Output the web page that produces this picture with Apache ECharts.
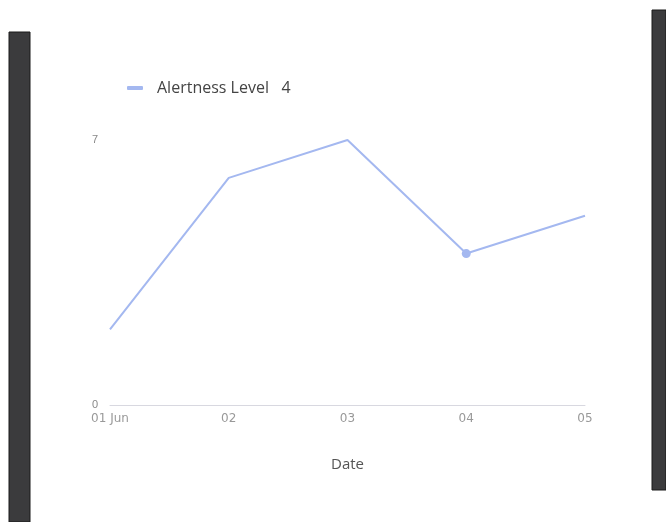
<!DOCTYPE html>
<html><head><meta charset="utf-8">
<script src="https://cdn.jsdelivr.net/npm/echarts@6/dist/echarts.min.js"></script>
<style>html,body{margin:0;padding:0;background:#fff}#c{width:666px;height:522px}</style>
</head><body><div id="c"></div>
<script>
const categories = ['01 Jun', '02', '03', '04', '05'];
const alertness = [2, 6, 7, 4, 5];
const yTicks = [0, 7];
const seriesName = 'Alertness Level';
const highlightIndex = 3;

const chart = echarts.init(document.getElementById('c'));
chart.setOption({
  animation: false,
  backgroundColor: '#ffffff',
  graphic: [
    {type: 'rect', shape: {x: 9, y: 32, width: 21, height: 490}, style: {fill: '#3b3b3d', stroke: '#1a1a1a', lineWidth: 1}},
    {type: 'rect', shape: {x: 652, y: 10, width: 14, height: 480}, style: {fill: '#3b3b3d', stroke: '#1a1a1a', lineWidth: 1}}
  ],
  legend: {
    left: 122, top: 75,
    itemWidth: 16, itemHeight: 4,
    textStyle: {fontSize: 16, color: '#444', fontFamily: 'Open Sans', padding: [0, 0, 0, 9]},
    formatter: name => name + '   ' + alertness[highlightIndex],
    data: [{name: seriesName, icon: 'roundRect'}]
  },
  grid: {left: 110, right: 81, top: 140, bottom: 117},
  xAxis: {
    type: 'category', data: categories, boundaryGap: false,
    name: 'Date', nameLocation: 'middle', nameGap: 52,
    nameTextStyle: {fontSize: 15, color: '#555', fontFamily: 'Open Sans'},
    axisLine: {lineStyle: {color: '#d8d8e0'}},
    axisTick: {show: false},
    axisLabel: {color: '#999', fontSize: 12, margin: 8, fontFamily: 'DejaVu Sans'}
  },
  yAxis: {
    type: 'value', min: yTicks[0], max: yTicks[1], interval: yTicks[1] - yTicks[0],
    axisLine: {show: false}, axisTick: {show: false}, splitLine: {show: false},
    axisLabel: {color: '#888', fontSize: 11, margin: 12}
  },
  series: [{
    name: seriesName, type: 'line',
    symbol: 'none',
    data: alertness.map((v, i) => i === highlightIndex ? {value: v, symbol: 'circle', symbolSize: 9} : v),
    lineStyle: {color: '#a4b8f0', width: 2},
    itemStyle: {color: '#a4b8f0'}
  }]
});
</script></body></html>
